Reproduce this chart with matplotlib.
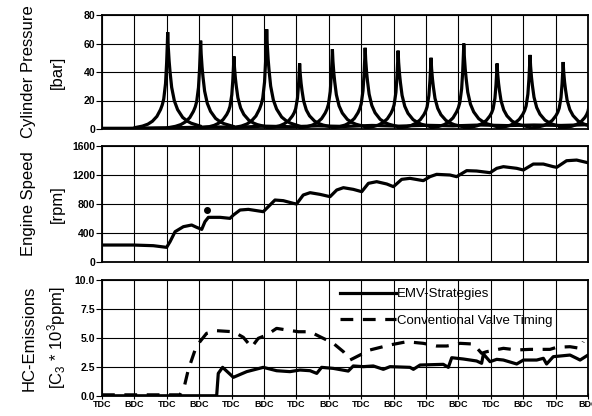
import matplotlib
matplotlib.use("Agg")
import matplotlib.pyplot as plt

plt.rcParams["font.family"] = ["Liberation Sans", "DejaVu Sans"]
plt.rcParams["mathtext.fontset"] = "custom"
plt.rcParams["mathtext.rm"] = "Liberation Sans"
plt.rcParams["mathtext.it"] = "Liberation Sans:italic"

# x axis: crank angle in degrees, a tick every 180 deg
tick_angles = list(range(0, 2701, 180))
tick_labels = ["TDC", "BDC"] * 8

# cylinder pressure: one trace per firing, peak angle and peak value [bar]
peak_angles = [365, 548, 733, 915, 1098, 1280, 1462, 1645, 1828, 2010, 2195, 2378, 2562, 2722]
peak_pressures = [68, 62, 51, 70, 46, 56, 57, 55, 50, 60, 46, 52, 47, 40]
peak_offsets = [-180, -140, -110, -85, -60, -40, -30, -22, -12, -6, -2, 0,
                3, 8, 13, 22, 37, 55, 83, 110, 130, 155, 180]
peak_shape = [0.015, 0.03, 0.05, 0.08, 0.13, 0.2, 0.25, 0.31, 0.47, 0.68, 0.88, 1.0,
              0.85, 0.7, 0.59, 0.43, 0.29, 0.2, 0.12, 0.08, 0.06, 0.045, 0.03]
# low pressure trace running along the bottom
base_angles = [0, 150, 300, 450, 600, 750, 900, 1050, 1200, 1350, 1500, 1650,
               1800, 1950, 2100, 2250, 2400, 2550, 2700]
base_pressure = [0.5, 0.5, 0.8, 1.0, 1.5, 1.2, 2.0, 1.6, 2.2, 1.8, 2.5, 2.0,
                 2.6, 2.2, 2.8, 2.4, 2.8, 2.5, 3.0]

# engine speed [rpm]
speed_angle = [0, 174, 285, 359, 378, 406, 452, 498, 526, 554, 572, 591, 656, 711,
               730, 767, 813, 896, 961, 1007, 1063, 1081, 1118, 1156, 1211, 1267,
               1304, 1341, 1396, 1443, 1480, 1526, 1582, 1619, 1665, 1711, 1785,
               1822, 1859, 1933, 1970, 2026, 2081, 2156, 2193, 2230, 2304, 2341,
               2396, 2452, 2507, 2526, 2581, 2637, 2700]
speed_rpm = [234, 234, 225, 202, 280, 418, 487, 510, 478, 450, 556, 616, 616, 602,
             648, 717, 726, 694, 855, 846, 809, 800, 924, 956, 933, 901,
             993, 1025, 1002, 970, 1085, 1108, 1076, 1039, 1140, 1154, 1122,
             1177, 1209, 1200, 1177, 1260, 1255, 1232, 1292, 1315, 1292, 1269,
             1351, 1351, 1315, 1306, 1397, 1406, 1369]
speed_dot_angle = [583]
speed_dot_rpm = [717]

# HC emissions [C3 * 10^3 ppm]
emv_angle = [0, 637, 646, 670, 730, 804, 896, 970, 1044, 1100, 1156, 1193, 1220,
             1285, 1368, 1396, 1452, 1507, 1563, 1600, 1711, 1730, 1767, 1896,
             1924, 1943, 2007, 2081, 2109, 2119, 2156, 2193, 2230, 2304, 2341,
             2415, 2452, 2470, 2507, 2600, 2637, 2656, 2700]
emv_hc = [0.02, 0.02, 1.95, 2.47, 1.61, 2.1, 2.47, 2.18, 2.1, 2.24, 2.18, 1.95, 2.47,
          2.38, 2.15, 2.59, 2.53, 2.59, 2.3, 2.53, 2.47, 2.3, 2.67, 2.73,
          2.47, 3.3, 3.19, 3.02, 2.82, 3.62, 2.96, 3.16, 3.1, 2.76, 3.1,
          3.1, 3.25, 2.76, 3.39, 3.53, 3.25, 3.1, 3.53]
conv_angle = [0, 433, 457, 479, 517, 544, 581, 637, 730, 785, 831, 868, 915, 970,
              1026, 1091, 1156, 1211, 1248, 1285, 1341, 1378, 1415, 1489, 1600,
              1693, 1785, 1859, 1915, 1952, 1989, 2063, 2109, 2137, 2230, 2304,
              2378, 2489, 2526, 2600, 2656, 2674]
conv_hc = [0.1, 0.1, 0.8, 2.24, 3.97, 4.68, 5.4, 5.63, 5.54, 5.06, 4.2, 4.97, 5.26, 5.83,
           5.69, 5.54, 5.54, 5.11, 4.83, 4.54, 3.82, 3.1, 3.39, 3.97, 4.4,
           4.68, 4.54, 4.31, 4.31, 4.4, 4.54, 4.48, 3.68, 3.82, 4.11, 3.97,
           4.02, 4.02, 4.2, 4.25, 4.11, 4.68]

pressure_ticks = [0, 20, 40, 60, 80]
speed_ticks = [0, 400, 800, 1200, 1600]
hc_ticks = [0.0, 2.5, 5.0, 7.5, 10.0]

LW = 2.3
W, H = 592, 416


def style_axis(ax, yticks, yfmt, show_x):
    ax.set_xlim(0, 2700)
    ax.set_ylim(yticks[0], yticks[-1])
    ax.set_xticks(tick_angles)
    ax.set_yticks(yticks)
    ax.set_yticklabels([yfmt.format(v) for v in yticks], fontsize=7.5, fontweight="bold")
    if show_x:
        ax.set_xticklabels(tick_labels, fontsize=6.5, fontweight="bold")
    else:
        ax.set_xticklabels([])
    ax.grid(True, color="black", linewidth=0.8)
    ax.tick_params(axis="y", length=4, width=0.8, pad=1)
    ax.tick_params(axis="x", direction="inout", length=4 if show_x else 0, width=0.8, pad=1)
    for s in ax.spines.values():
        s.set_linewidth(1.3)


fig = plt.figure(figsize=(W / 100, H / 100), dpi=100)
left, right = 102 / W, 588 / W


def panel(top_px, bot_px):
    return fig.add_axes([left, 1 - bot_px / H, right - left, (bot_px - top_px) / H])


# cylinder pressure
ax1 = panel(15, 129)
ax1.plot(base_angles, base_pressure, color="black", lw=LW)
for a, p in zip(peak_angles, peak_pressures):
    ax1.plot([a + o for o in peak_offsets], [p * f for f in peak_shape],
             color="black", lw=LW, solid_joinstyle="miter")
style_axis(ax1, pressure_ticks, "{:d}", False)

# engine speed
ax2 = panel(146, 262)
ax2.plot(speed_angle, speed_rpm, color="black", lw=LW)
ax2.plot(speed_dot_angle, speed_dot_rpm, "o", color="black", ms=4)
style_axis(ax2, speed_ticks, "{:d}", False)

# HC emissions
ax3 = panel(280, 396)
ax3.plot(emv_angle, emv_hc, color="black", lw=LW, label="EMV-Strategies")
ax3.plot(conv_angle, conv_hc, color="black", lw=LW, linestyle=(0, (4, 3)),
         label="Conventional Valve Timing")
style_axis(ax3, hc_ticks, "{:.1f}", True)
ax3.legend(loc="upper left", bbox_to_anchor=(0.49, 0.93), frameon=False,
           fontsize=9.5, handlelength=4.2, handletextpad=0.1, labelspacing=1.1,
           borderpad=0, borderaxespad=0)

# y labels (two lines each)
labels = [("Cylinder Pressure", "[bar]", 15, 129),
          ("Engine Speed", "[rpm]", 146, 262),
          ("HC-Emissions", "[C$_3$ * 10$^3$ppm]", 280, 396)]
for l1, l2, t, b in labels:
    yc = 1 - (t + b) / 2 / H
    fig.text(29 / W, yc, l1, rotation=90, ha="center", va="center", fontsize=12)
    fig.text(57 / W, yc, l2, rotation=90, ha="center", va="center", fontsize=12)

fig.savefig("out.png", dpi=100)
